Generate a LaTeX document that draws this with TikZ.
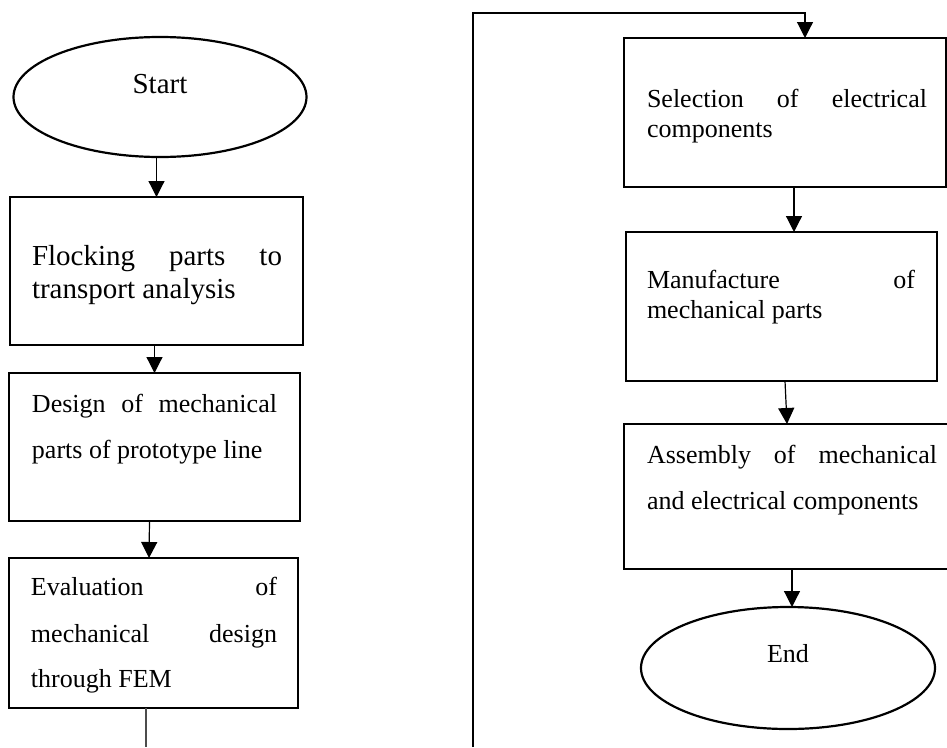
\documentclass[tikz,border=0pt]{standalone}
\usepackage{fontspec}
\setmainfont{Liberation Serif}
\usetikzlibrary{arrows.meta,shapes.geometric}
\newbox\lnbox
\newcommand\Ln[2]{\setbox\lnbox=\hbox to #1{#2}\ht\lnbox=0pt\dp\lnbox=0pt\box\lnbox}
\newcommand\fA{\fontsize{29pt}{33pt}\selectfont}
\newcommand\fB{\fontsize{26pt}{30pt}\selectfont}
\tikzset{
  box/.style={draw, line width=2.4pt, rectangle, inner sep=0pt, outer sep=0pt},
  term/.style={draw, line width=2.2pt, ellipse, inner sep=0pt, outer sep=0pt, font=\fA},
  arr/.style={line width=1.2pt, -{Triangle[width=16pt,length=16pt]}},
  conn/.style={line width=1.2pt}
}
\begin{document}
\begin{tikzpicture}[x=1pt,y=-1pt]
\clip (0,0) rectangle (947,747);
\fill[white] (0,0) rectangle (947,747);

% left column
\node[term, minimum width=293pt, minimum height=120pt] (start) at (160,97) {\smash{\raisebox{4pt}{Start}}};

\node[box, font=\fA, minimum width=293pt, minimum height=148pt] (flock) at (156.5,271)
 {\vbox to 148pt{\offinterlineskip\vskip68pt
  \Ln{293pt}{\hskip22pt\hbox to 250pt{Flocking\hfill parts\hfill to}\hss}\vskip33pt
  \Ln{293pt}{\hskip22pt transport analysis\hss}\vfill}};

\node[box, font=\fB, minimum width=291pt, minimum height=148pt] (design) at (154.5,447)
 {\vbox to 148pt{\offinterlineskip\vskip39pt
  \Ln{291pt}{\hskip23pt\hbox to 245pt{Design\hfill of\hfill mechanical}\hss}\vskip46pt
  \Ln{291pt}{\hskip23pt parts of prototype line\hss}\vfill}};

\node[box, font=\fB, minimum width=289pt, minimum height=150pt] (eval) at (153.5,633)
 {\vbox to 150pt{\offinterlineskip\vskip37pt
  \Ln{289pt}{\hskip22pt\hbox to 246pt{Evaluation\hfill of}\hss}\vskip47pt
  \Ln{289pt}{\hskip22pt\hbox to 246pt{mechanical\hfill design}\hss}\vskip45pt
  \Ln{289pt}{\hskip22pt through FEM\hss}\vfill}};

% right column
\node[box, font=\fB, minimum width=322pt, minimum height=149pt] (sel) at (785,112.5)
 {\vbox to 149pt{\offinterlineskip\vskip69pt
  \Ln{322pt}{\hskip23pt\hbox to 280pt{Selection\hfill of\hfill electrical}\hss}\vskip30pt
  \Ln{322pt}{\hskip23pt components\hss}\vfill}};

\node[box, font=\fB, minimum width=311pt, minimum height=149pt] (manu) at (781.5,306.5)
 {\vbox to 149pt{\offinterlineskip\vskip56pt
  \Ln{311pt}{\hskip21pt\hbox to 268pt{Manufacture\hfill of}\hss}\vskip30pt
  \Ln{311pt}{\hskip21pt mechanical parts\hss}\vfill}};

\node[box, font=\fB, minimum width=336pt, minimum height=145pt] (asm) at (792,496.5)
 {\vbox to 145pt{\offinterlineskip\vskip39pt
  \Ln{336pt}{\hskip23pt\hbox to 290pt{Assembly\hfill of\hfill mechanical}\hss}\vskip46pt
  \Ln{336pt}{\hskip23pt and electrical components\hss}\vfill}};

\node[term, font=\fB, minimum width=294pt, minimum height=122pt] (end) at (788,668) {\smash{\raisebox{6pt}{End}}};

% connector end points
\coordinate (lout) at (146,747);
\coordinate (rin) at (473,747);
\coordinate (rtop) at (473,13);

% connectors
\draw[arr] (start.south -| flock.north) -- (flock.north);
\draw[arr] (flock.south -| design.north) -- (design.north);
\draw[arr] ([xshift=-5pt]design.south) -- ([xshift=-4.5pt]eval.north);
\draw[conn, draw=black!70, line width=1.6pt] (eval.south -| lout) -- (lout);

\draw[arr] (rin) -- (rtop) -| ([xshift=20pt]sel.north);
\draw[arr] ([xshift=9pt]sel.south) -- ([xshift=9pt]sel.south |- manu.north);
\draw[arr] ([xshift=3.5pt]manu.south) -- ([xshift=-5pt]asm.north);
\draw[arr] (asm.south) -- (asm.south |- end.north);
\end{tikzpicture}
\end{document}
